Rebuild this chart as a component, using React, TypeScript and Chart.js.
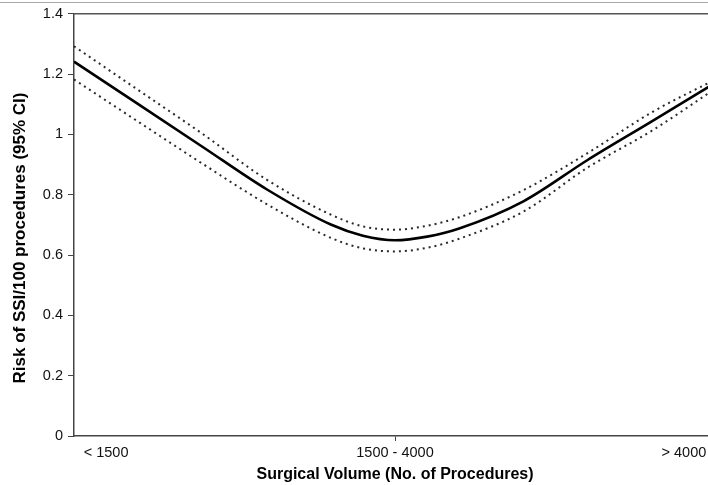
import React, { useEffect, useRef } from 'react';
import { Chart, registerables } from 'chart.js';

Chart.register(...registerables);

// Position along the volume axis (0 = left edge, 100 = right edge of plot)
const xPositions = [0, 10, 20, 30, 40, 45, 50, 55, 60, 70, 80, 90, 100];
const riskEstimate = [1.241, 1.100, 0.959, 0.818, 0.701, 0.664, 0.649, 0.661, 0.688, 0.778, 0.915, 1.043, 1.172];
const upperCI = [1.292, 1.147, 1.002, 0.850, 0.734, 0.695, 0.684, 0.697, 0.725, 0.815, 0.938, 1.073, 1.183];
const lowerCI = [1.182, 1.042, 0.903, 0.769, 0.657, 0.622, 0.612, 0.624, 0.654, 0.744, 0.890, 1.012, 1.153];

const categoryLabels = ['< 1500', '1500 - 4000', '> 4000'];
const categoryPositions = [5, 50, 95];
const tickedCategory = 50;

const yTickValues = [0, 0.2, 0.4, 0.6, 0.8, 1, 1.2, 1.4];

const xTitle = 'Surgical Volume (No. of Procedures)';
const yTitle = 'Risk of SSI/100 procedures (95% CI)';

const FONT = '"Liberation Sans", Arial, Helvetica, sans-serif';

const framePlugin = {
  id: 'frameAndTitles',
  afterDraw(chart: any) {
    const { ctx, chartArea } = chart;
    ctx.save();
    // thin page rule at top
    ctx.strokeStyle = '#a8a8a8';
    ctx.lineWidth = 1;
    ctx.beginPath();
    ctx.moveTo(0, 2.5);
    ctx.lineTo(chart.width, 2.5);
    ctx.stroke();
    // plot top border
    ctx.strokeStyle = '#555';
    ctx.lineWidth = 1.5;
    ctx.beginPath();
    ctx.moveTo(chartArea.left, chartArea.top);
    ctx.lineTo(chartArea.right, chartArea.top);
    ctx.stroke();
    // titles
    ctx.fillStyle = '#000';
    ctx.textAlign = 'center';
    ctx.textBaseline = 'middle';
    ctx.font = 'bold 16px ' + FONT;
    const xMid = chart.scales.x.getPixelForValue(tickedCategory);
    ctx.fillText(xTitle, xMid, 475);
    ctx.font = 'bold 17px ' + FONT;
    ctx.translate(20, 238);
    ctx.rotate(-Math.PI / 2);
    ctx.fillText(yTitle, 0, 0);
    ctx.restore();
  },
};

export default function App() {
  const canvasRef = useRef<HTMLCanvasElement | null>(null);

  useEffect(() => {
    const canvas = canvasRef.current;
    if (!canvas) return;
    const toPoints = (ys: number[]) => xPositions.map((x, i) => ({ x, y: ys[i] }));
    const chart = new Chart(canvas, {
      type: 'line',
      data: {
        datasets: [
          {
            label: 'Upper 95% CI',
            data: toPoints(upperCI),
            borderColor: '#2a2a2a',
            borderWidth: 2,
            borderDash: [2, 4],
            pointRadius: 0,
            cubicInterpolationMode: 'monotone',
            fill: false,
          },
          {
            label: 'Lower 95% CI',
            data: toPoints(lowerCI),
            borderColor: '#2a2a2a',
            borderWidth: 2,
            borderDash: [2, 4],
            pointRadius: 0,
            cubicInterpolationMode: 'monotone',
            fill: false,
          },
          {
            label: 'Risk',
            data: toPoints(riskEstimate),
            borderColor: '#000',
            borderWidth: 2.6,
            pointRadius: 0,
            cubicInterpolationMode: 'monotone',
            fill: false,
          },
        ],
      },
      options: {
        animation: false,
        responsive: false,
        devicePixelRatio: 1,
        layout: { padding: { top: 13, left: 0, right: 0, bottom: 0 } },
        plugins: {
          legend: { display: false },
          tooltip: { enabled: false },
        },
        scales: {
          x: {
            type: 'linear',
            min: 0,
            max: 100,
            afterBuildTicks: (scale: any) => {
              scale.ticks = categoryPositions.map((v) => ({ value: v }));
            },
            afterFit: (scale: any) => {
              scale.height = 49;
            },
            ticks: {
              autoSkip: false,
              maxRotation: 0,
              padding: 3,
              color: '#111',
              font: { family: FONT, size: 14.5 },
              callback: (v: any) => {
                const i = categoryPositions.indexOf(Number(v));
                return i >= 0 ? categoryLabels[i] : '';
              },
            },
            grid: {
              drawOnChartArea: false,
              drawTicks: true,
              tickLength: 5,
              tickColor: (ctx: any) =>
                ctx.tick && ctx.tick.value === tickedCategory ? '#444' : 'rgba(0,0,0,0)',
            },
            border: { color: '#444', width: 1.5 },
          },
          y: {
            type: 'linear',
            min: 0,
            max: 1.4,
            afterBuildTicks: (scale: any) => {
              scale.ticks = yTickValues.map((v) => ({ value: v }));
            },
            afterFit: (scale: any) => {
              scale.width = 74;
            },
            ticks: {
              padding: 5,
              color: '#111',
              font: { family: FONT, size: 14.5 },
              callback: (v: any) => String(+Number(v).toFixed(1)),
            },
            grid: {
              drawOnChartArea: false,
              drawTicks: true,
              tickLength: 6,
              tickColor: '#444',
            },
            border: { color: '#444', width: 1.5 },
          },
        },
      },
      plugins: [framePlugin],
    } as any);
    return () => chart.destroy();
  }, []);

  return (
    <div style={{ position: 'fixed', left: 0, top: 0, width: 716, height: 485, background: '#fff' }}>
      <canvas ref={canvasRef} width={716} height={485} style={{ display: 'block' }} />
    </div>
  );
}
